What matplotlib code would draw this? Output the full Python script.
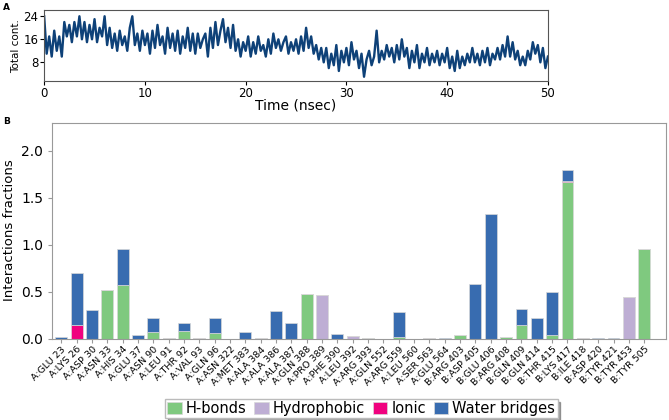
import numpy as np
import matplotlib
matplotlib.use('Agg')
import matplotlib.pyplot as plt

# Panel A: total contacts over time (every 0.25 ns)
time_ns = np.arange(0, 50.01, 0.25)
total_contacts = [
    24, 11, 17, 10, 19, 12, 17, 10, 22, 17, 21, 15, 22, 17, 24, 16, 22, 15, 21, 16,
    23, 15, 20, 17, 24, 14, 20, 13, 18, 12, 19, 14, 17, 12, 20, 24, 14, 18, 12, 19,
    14, 18, 11, 19, 13, 21, 14, 17, 11, 20, 13, 18, 12, 19, 11, 17, 13, 20, 12, 18,
    11, 18, 13, 16, 18, 10, 20, 13, 22, 14, 19, 23, 15, 20, 13, 21, 12, 16, 10, 15,
    12, 17, 10, 15, 11, 17, 12, 14, 10, 16, 11, 18, 13, 16, 12, 15, 17, 11, 15, 12,
    16, 11, 17, 12, 20, 13, 17, 11, 14, 9, 13, 8, 13, 6, 11, 7, 14, 5, 12, 8,
    13, 7, 15, 9, 12, 6, 11, 3, 9, 12, 7, 10, 19, 8, 12, 9, 14, 10, 13, 8,
    14, 9, 16, 10, 13, 6, 12, 8, 14, 6, 11, 8, 13, 7, 11, 8, 12, 7, 11, 8,
    13, 6, 10, 5, 12, 6, 10, 7, 11, 8, 13, 8, 11, 7, 12, 8, 13, 7, 11, 9,
    13, 9, 14, 10, 17, 10, 15, 9, 12, 7, 10, 7, 12, 9, 15, 11, 14, 8, 13, 6,
    10,
]

# Panel B: interaction fractions per residue
residues = [
    'A:GLU 23', 'A:LYS 26', 'A:ASP 30', 'A:ASN 33', 'A:HIS 34', 'A:GLU 37',
    'A:ASN 90', 'A:LEU 91', 'A:THR 92', 'A:VAL 93', 'A:GLN 96', 'A:ASN 322',
    'A:MET 383', 'A:ALA 384', 'A:ALA 386', 'A:ALA 387', 'A:GLN 388', 'A:PRO 389',
    'A:PHE 390', 'A:LEU 392', 'A:ARG 393', 'A:GLN 552', 'A:ARG 559', 'A:LEU 560',
    'A:SER 563', 'A:GLU 564', 'B:ARG 403', 'B:ASP 405', 'B:GLU 406', 'B:ARG 408',
    'B:GLN 409', 'B:GLN 414', 'B:THR 415', 'B:LYS 417', 'B:ILE 418', 'B:ASP 420',
    'B:TYR 421', 'B:TYR 453', 'B:TYR 505',
]
hbonds = [0, 0, 0, 0.52, 0.57, 0, 0.07, 0, 0.083, 0, 0.062, 0,
          0, 0, 0, 0, 0.477, 0, 0, 0, 0.01, 0, 0.016, 0,
          0, 0, 0.035, 0, 0, 0.02, 0.147, 0, 0.04, 1.668, 0, 0,
          0, 0, 0.955]
hydrophobic = [0, 0, 0, 0, 0, 0, 0, 0.006, 0, 0.006, 0, 0,
               0, 0.006, 0, 0, 0, 0.466, 0, 0.03, 0, 0, 0, 0,
               0.006, 0, 0, 0, 0, 0, 0, 0, 0, 0, 0.006, 0,
               0, 0.445, 0]
ionic = [0, 0.14, 0, 0, 0, 0, 0, 0, 0, 0, 0, 0,
         0, 0, 0, 0, 0, 0, 0, 0, 0, 0, 0, 0,
         0, 0, 0, 0, 0, 0, 0, 0, 0, 0.01, 0, 0,
         0, 0, 0]
water_bridges = [0.012, 0.56, 0.30, 0, 0.385, 0.04, 0.145, 0, 0.087, 0, 0.153, 0,
                 0.07, 0, 0.29, 0.17, 0, 0, 0.048, 0, 0, 0, 0.27, 0,
                 0, 0.01, 0, 0.58, 1.33, 0, 0.163, 0.215, 0.46, 0.118, 0, 0.01,
                 0.008, 0, 0]

colors = {'H-bonds': '#7fc97f', 'Hydrophobic': '#beaed4',
          'Ionic': '#f0027f', 'Water bridges': '#386cb0'}

fig = plt.figure(figsize=(6.69, 4.2), dpi=100)

# ---- panel A
ax1 = fig.add_axes([0.066, 0.807, 0.753, 0.168])
ax1.plot(time_ns, total_contacts, color='#0e4178', lw=1.7)
ax1.set_xlim(0, 50)
ax1.set_ylim(1.5, 26)
ax1.set_yticks([8, 16, 24])
ax1.set_xticks([0, 10, 20, 30, 40, 50])
ax1.tick_params(axis='y', labelsize=8.5, length=3, pad=1)
ax1.tick_params(axis='x', labelsize=8.5, length=3, pad=1)
ax1.set_ylabel('Total cont.', fontsize=7.5, labelpad=2)
ax1.set_xlabel('Time (nsec)', fontsize=10, labelpad=-1)
for s in ax1.spines.values():
    s.set_color('#555555')
fig.text(0.005, 0.975, 'A', fontsize=6.5, fontweight='bold')

# ---- panel B
ax2 = fig.add_axes([0.078, 0.194, 0.917, 0.514])
x = np.arange(len(residues))
bottom = np.zeros(len(residues))
for name, vals in [('H-bonds', hbonds), ('Hydrophobic', hydrophobic),
                   ('Ionic', ionic), ('Water bridges', water_bridges)]:
    ax2.bar(x, vals, width=0.78, bottom=bottom, color=colors[name],
            edgecolor='#d8d8d8', linewidth=0.5, label=name)
    bottom += np.array(vals)
ax2.set_xlim(-0.6, len(residues) + 0.4)
ax2.set_ylim(0, 2.3)
ax2.set_yticks([0.0, 0.5, 1.0, 1.5, 2.0])
ax2.set_xticks(x)
ax2.set_xticklabels(residues, rotation=45, ha='right', rotation_mode='anchor',
                    fontsize=6.8)
ax2.tick_params(axis='y', labelsize=10, length=3, color='#999999')
ax2.tick_params(axis='x', length=3, pad=1.5, color='#999999')
ax2.set_ylabel('Interactions fractions', fontsize=9.5)
for s in ax2.spines.values():
    s.set_color('#999999')
fig.text(0.005, 0.705, 'B', fontsize=6.5, fontweight='bold')

fig.legend(loc='upper center', bbox_to_anchor=(0.54, 0.068), ncol=4,
           fontsize=10.5, handlelength=1.0, handleheight=0.9, handletextpad=0.3,
           columnspacing=0.5, borderpad=0.15, fancybox=False, shadow=True,
           edgecolor='#bbbbbb')

fig.savefig('out.png', dpi=100)
